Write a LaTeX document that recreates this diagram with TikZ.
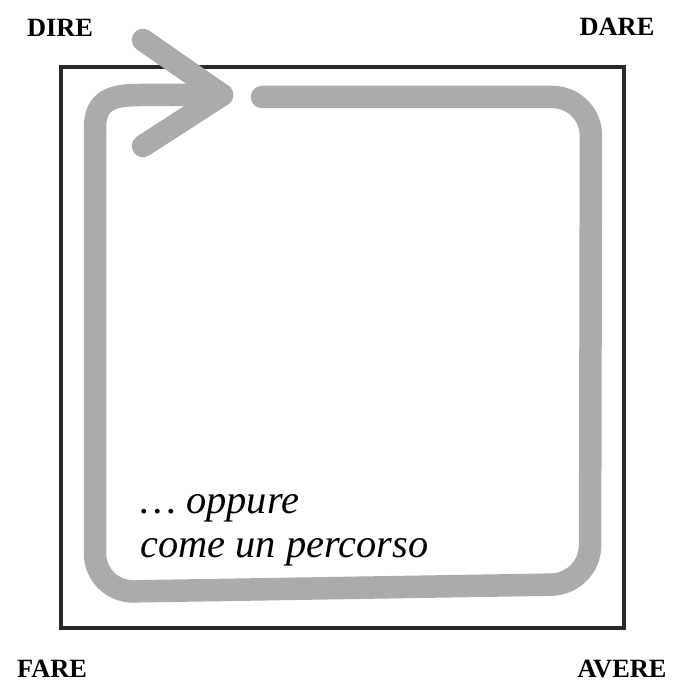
\documentclass[tikz,border=0pt]{standalone}
\usepackage{fontspec}
\setmainfont{Liberation Serif}
\definecolor{pathgray}{RGB}{170,171,173}
\definecolor{framegray}{RGB}{40,40,40}
\begin{document}
\begin{tikzpicture}[x=0.02cm, y=-0.02cm]
  \tikzset{
    corner_label/.style={anchor=base, inner sep=0pt, font=\fontsize{15}{18}\selectfont\bfseries},
    note_text/.style={anchor=base west, inner sep=0pt, font=\fontsize{23}{26}\selectfont\itshape},
    gray_path/.style={draw=pathgray, line width=0.45cm, line cap=round, line join=round}
  }
  \useasboundingbox (0,0) rectangle (681,688);

  % Cornice quadrata
  \draw[framegray, line width=0.08cm] (61,67) rectangle (624,628);

  % Percorso grigio
  \draw[gray_path, rounded corners=22]
    (262,97) -- (591,97) -- (590,584) -- (95,592) -- (95,128);
  \draw[gray_path] (95,128) .. controls (95,100) and (112,95) .. (140,95) -- (222,95);

  % Punta della freccia
  \draw[gray_path] (143,40) -- (222,95) -- (143,146);

  % Etichette agli angoli
  \node[corner_label] (dire) at (60,37) {DIRE};
  \node[corner_label] (dare) at (617,36) {DARE};
  \node[corner_label] (fare) at (52,677) {FARE};
  \node[corner_label] (avere) at (622,677) {AVERE};

  % Testo interno
  \node[note_text] (oppure) at (140,513) {\dots{} oppure};
  \node[note_text] (percorso) at (140,557) {come un percorso};
\end{tikzpicture}
\end{document}
